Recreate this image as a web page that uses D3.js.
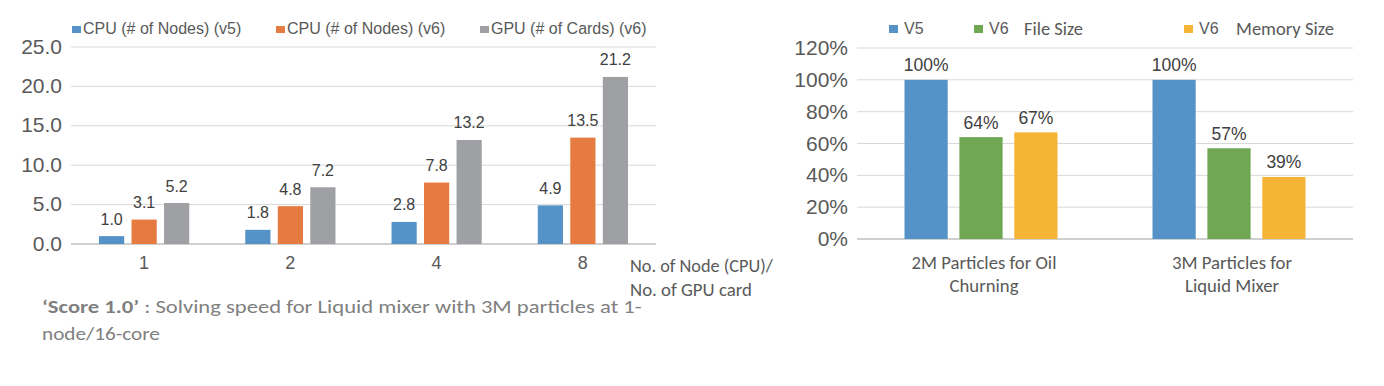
<!DOCTYPE html>
<html>
<head>
<meta charset="utf-8">
<script src="https://cdn.jsdelivr.net/npm/d3@7"></script>
<style>
  body { margin: 0; background: #fff; }
  .arl { font-family: "Liberation Sans", Arial, sans-serif; }
  .cal { font-family: Carlito, Calibri, Lato, "Open Sans", sans-serif; }
</style>
</head>
<body>
<div id="chart"></div>
<script>
// left chart data
var nodeCats = ["1", "2", "4", "8"];
var speedSeries = ["CPU (# of Nodes) (v5)", "CPU (# of Nodes) (v6)", "GPU (# of Cards) (v6)"];
var cpuV5 = [1.0, 1.8, 2.8, 4.9];
var cpuV6 = [3.1, 4.8, 7.8, 13.5];
var gpuV6 = [5.2, 7.2, 13.2, 21.2];
var speedTicks = [0, 5, 10, 15, 20, 25];
var speedColors = ["#5592c8", "#e57b41", "#9ea0a3"];

// right chart data
var caseCats = [["2M Particles for Oil", "Churning"], ["3M Particles for", "Liquid Mixer"]];
var sizeSeries = ["V5", "V6 File Size", "V6 Memory Size"];
var v5Size = [100, 100];
var v6File = [64, 57];
var v6Mem = [67, 39];
var sizeTicks = [0, 20, 40, 60, 80, 100, 120];
var sizeColors = ["#5592c8", "#70a752", "#f4b436"];

var svgWidth = 1384;
var svgHeight = 386;

var svg = d3.select("#chart")
  .append("svg")
  .attr("width", svgWidth)
  .attr("height", svgHeight);

// squeeze/stretch a calibri-like text to the width it has in the picture
function fitText(parent, x, y, w, anchor, size, fill, txt) {
  var g = parent.append("g").attr("transform", `translate(${x},${y})`);
  var t = g.append("text")
    .attr("class", "cal")
    .attr("text-anchor", anchor || "start")
    .attr("font-size", size)
    .attr("fill", fill);
  if (typeof txt === "string") t.text(txt);
  else txt(t);
  var nat = t.node().getComputedTextLength();
  g.attr("transform", `translate(${x},${y}) scale(${w / nat},1)`);
  return g;
}

// ==============================
// Left chart
// ==============================
var speedRows = nodeCats.map((c, i) => ({cat: c, vals: [cpuV5[i], cpuV6[i], gpuV6[i]]}));

var groupW = 90.2;
var x0 = d3.scaleBand().domain(nodeCats).range([71, 656]);
var x1 = d3.scaleBand().domain(d3.range(3)).range([0, groupW]).paddingInner(0.225);
var yL = d3.scaleLinear().domain([0, 25]).range([244, 47]);

var left = svg.append("g");

left.selectAll(".grid")
  .data(speedTicks)
  .enter()
  .append("line")
  .attr("x1", 71).attr("x2", 656)
  .attr("y1", d => yL(d)).attr("y2", d => yL(d))
  .attr("stroke", d => d === 0 ? "#bfbfbf" : "#d9d9d9")
  .attr("stroke-width", d => d === 0 ? 1.5 : 1);

left.selectAll(".tick")
  .data(speedTicks)
  .enter()
  .append("text")
  .attr("class", "arl")
  .attr("x", 62)
  .attr("y", d => yL(d) + 6.5)
  .attr("text-anchor", "end")
  .attr("font-size", 21)
  .attr("fill", "#595959")
  .text(d => d3.format(".1f")(d));

var lgroups = left.selectAll(".grp")
  .data(speedRows)
  .enter()
  .append("g")
  .attr("transform", d => `translate(${x0(d.cat) + (x0.bandwidth() - groupW) / 2},0)`);

lgroups.selectAll("rect")
  .data(d => d.vals)
  .enter()
  .append("rect")
  .attr("x", (d, i) => x1(i))
  .attr("width", x1.bandwidth())
  .attr("y", d => yL(d))
  .attr("height", d => yL(0) - yL(d))
  .attr("fill", (d, i) => speedColors[i]);

lgroups.selectAll("text")
  .data(d => d.vals)
  .enter()
  .append("text")
  .attr("class", "arl")
  .attr("x", (d, i) => x1(i) + x1.bandwidth() / 2)
  .attr("y", d => yL(d) - 11.5)
  .attr("text-anchor", "middle")
  .attr("font-size", 16)
  .attr("fill", "#404040")
  .text(d => d3.format(".1f")(d));

left.selectAll(".xlab")
  .data(nodeCats)
  .enter()
  .append("text")
  .attr("class", "arl")
  .attr("x", d => x0(d) + x0.bandwidth() / 2)
  .attr("y", 269)
  .attr("text-anchor", "middle")
  .attr("font-size", 18)
  .attr("fill", "#595959")
  .text(d => d);

var lLegX = [72, 276, 480];
speedSeries.forEach(function(s, i) {
  left.append("rect")
    .attr("x", lLegX[i]).attr("y", 26)
    .attr("width", 9).attr("height", 7)
    .attr("fill", speedColors[i]);
  left.append("text")
    .attr("class", "arl")
    .attr("x", lLegX[i] + 11).attr("y", 33.5)
    .attr("font-size", 16)
    .attr("fill", "#595959")
    .text(s);
});

fitText(left, 630, 272, 143, "start", 18, "#595959", "No. of Node (CPU)/");
fitText(left, 630, 296, 122, "start", 18, "#595959", "No. of GPU card");

fitText(left, 42, 312.5, 600, "start", 18, "#7f7f7f", function(t) {
  t.append("tspan").attr("font-weight", "bold").text("‘Score 1.0’");
  t.append("tspan").text(" : Solving speed for Liquid mixer with 3M particles at 1-");
});
fitText(left, 42, 340, 118, "start", 18, "#7f7f7f", "node/16-core");

// ==============================
// Right chart
// ==============================
var sizeRows = caseCats.map((c, i) => ({cat: c, key: c.join(" "), vals: [v5Size[i], v6File[i], v6Mem[i]]}));

var groupR = 153;
var r0 = d3.scaleBand().domain(sizeRows.map(d => d.key)).range([857, 1353]);
var r1 = d3.scaleBand().domain(d3.range(3)).range([0, groupR]).paddingInner(0.213);
var yR = d3.scaleLinear().domain([0, 120]).range([239, 48]);

var right = svg.append("g");

right.selectAll(".grid")
  .data(sizeTicks)
  .enter()
  .append("line")
  .attr("x1", 857).attr("x2", 1353)
  .attr("y1", d => yR(d)).attr("y2", d => yR(d))
  .attr("stroke", d => d === 0 ? "#bfbfbf" : "#d9d9d9")
  .attr("stroke-width", d => d === 0 ? 1.5 : 1);

right.selectAll(".tick")
  .data(sizeTicks)
  .enter()
  .append("text")
  .attr("class", "arl")
  .attr("x", 848)
  .attr("y", d => yR(d) + 7)
  .attr("text-anchor", "end")
  .attr("font-size", 21)
  .attr("fill", "#595959")
  .text(d => d + "%");

var rgroups = right.selectAll(".grp")
  .data(sizeRows)
  .enter()
  .append("g")
  .attr("transform", d => `translate(${r0(d.key) + (r0.bandwidth() - groupR) / 2},0)`);

rgroups.selectAll("rect")
  .data(d => d.vals)
  .enter()
  .append("rect")
  .attr("x", (d, i) => r1(i))
  .attr("width", r1.bandwidth())
  .attr("y", d => yR(d))
  .attr("height", d => yR(0) - yR(d))
  .attr("fill", (d, i) => sizeColors[i]);

rgroups.selectAll("text")
  .data(d => d.vals)
  .enter()
  .append("text")
  .attr("class", "arl")
  .attr("x", (d, i) => r1(i) + r1.bandwidth() / 2)
  .attr("y", d => yR(d) - 8.5)
  .attr("text-anchor", "middle")
  .attr("font-size", 17.5)
  .attr("fill", "#404040")
  .text(d => d + "%");

var catW = [[145, 69], [120, 94]];
sizeRows.forEach(function(d, i) {
  d.cat.forEach(function(line, j) {
    fitText(right, r0(d.key) + r0.bandwidth() / 2 + 3, 269 + j * 23, catW[i][j], "middle", 18, "#595959", line);
  });
});

// legend: "V5", "V6  File Size", "V6  Memory Size"
var rLegX = [889, 974, 1184];
var rLegSub = [null, {x: 1024, w: 59, t: "File Size"}, {x: 1236, w: 98, t: "Memory Size"}];
sizeSeries.forEach(function(s, i) {
  right.append("rect")
    .attr("x", rLegX[i]).attr("y", 25)
    .attr("width", 9).attr("height", 8)
    .attr("fill", sizeColors[i]);
  right.append("text")
    .attr("class", "arl")
    .attr("x", rLegX[i] + 15).attr("y", 34)
    .attr("font-size", 16)
    .attr("fill", "#595959")
    .text(s.split(" ")[0]);
  if (rLegSub[i]) {
    fitText(right, rLegSub[i].x, 34.5, rLegSub[i].w, "start", 18, "#595959", rLegSub[i].t);
  }
});
</script>
</body>
</html>
